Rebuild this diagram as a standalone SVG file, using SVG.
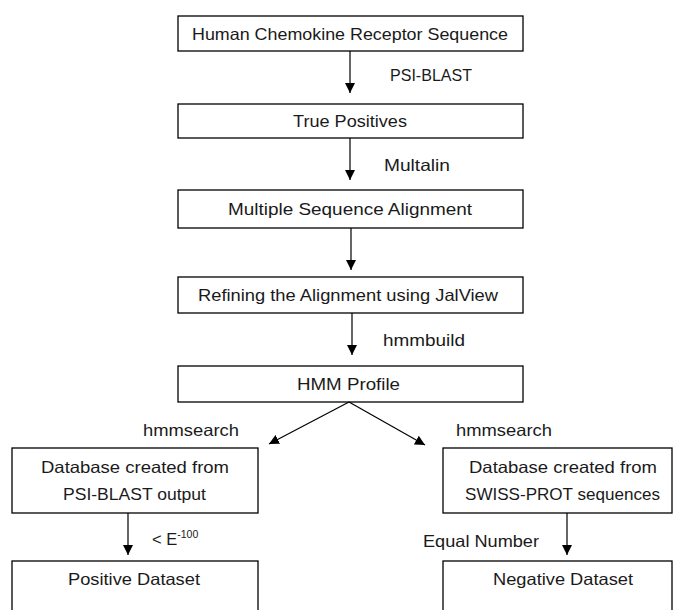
<svg xmlns="http://www.w3.org/2000/svg" width="673" height="610" viewBox="0 0 673 610">
<style>
rect.box{fill:#fff;stroke:#000;stroke-width:1.3}
text{font-family:"Liberation Sans",Arial,sans-serif;font-size:16.5px;fill:#1a1a1a}
.c{text-anchor:middle}
.conn line{stroke:#000;stroke-width:1.2;marker-end:url(#ah)}
</style>
<defs>
<marker id="ah" viewBox="0 0 10 10" refX="10" refY="5" markerWidth="10" markerHeight="10" markerUnits="userSpaceOnUse" orient="auto">
<path d="M0,0 L10,5 L0,10 z" fill="#000"/>
</marker>
</defs>
<rect width="673" height="610" fill="#fff"/>
<g id="n1"><rect class="box" x="178" y="16" width="345" height="35"/><text class="c" x="350" y="40" textLength="316" lengthAdjust="spacingAndGlyphs">Human Chemokine Receptor Sequence</text></g>
<g id="n2"><rect class="box" x="178" y="104" width="345" height="34"/><text class="c" x="350" y="127" textLength="114" lengthAdjust="spacingAndGlyphs">True Positives</text></g>
<g id="n3"><rect class="box" x="178" y="190" width="345" height="38"/><text class="c" x="350" y="215" textLength="244" lengthAdjust="spacingAndGlyphs">Multiple Sequence Alignment</text></g>
<g id="n4"><rect class="box" x="178" y="277" width="345" height="36"/><text class="c" x="348" y="301" textLength="300" lengthAdjust="spacingAndGlyphs">Refining the Alignment using JalView</text></g>
<g id="n5"><rect class="box" x="178" y="366" width="345" height="36"/><text class="c" x="348.5" y="390" textLength="103" lengthAdjust="spacingAndGlyphs">HMM Profile</text></g>
<g id="n6"><rect class="box" x="12" y="448" width="246" height="65"/><text class="c" x="135" y="473" textLength="188" lengthAdjust="spacingAndGlyphs">Database created from</text><text class="c" x="134.5" y="500" textLength="143" lengthAdjust="spacingAndGlyphs">PSI-BLAST output</text></g>
<g id="n7"><rect class="box" x="443" y="448" width="229" height="65"/><text class="c" x="563" y="473" textLength="188" lengthAdjust="spacingAndGlyphs">Database created from</text><text class="c" x="562.5" y="500" textLength="195" lengthAdjust="spacingAndGlyphs">SWISS-PROT sequences</text></g>
<g id="n8"><rect class="box" x="12" y="561" width="246" height="60"/><text class="c" x="134" y="585" textLength="132" lengthAdjust="spacingAndGlyphs">Positive Dataset</text></g>
<g id="n9"><rect class="box" x="443" y="561" width="229" height="60"/><text class="c" x="563" y="585" textLength="140" lengthAdjust="spacingAndGlyphs">Negative Dataset</text></g>
<g class="conn" id="connectors">
<line x1="350" y1="51" x2="350" y2="93"/>
<line x1="350" y1="138" x2="350" y2="180"/>
<line x1="351" y1="228" x2="351" y2="270"/>
<line x1="352" y1="313" x2="352" y2="355"/>
<line x1="349" y1="402" x2="269" y2="444"/>
<line x1="349" y1="402" x2="425" y2="445"/>
<line x1="128" y1="513" x2="128" y2="555"/>
<line x1="567" y1="513" x2="567" y2="555"/>
</g>
<g id="labels">
<text x="390" y="81" textLength="82" lengthAdjust="spacingAndGlyphs">PSI-BLAST</text>
<text x="384" y="171" textLength="66" lengthAdjust="spacingAndGlyphs">Multalin</text>
<text x="383" y="346" textLength="82" lengthAdjust="spacingAndGlyphs">hmmbuild</text>
<text x="143" y="436" textLength="96" lengthAdjust="spacingAndGlyphs">hmmsearch</text>
<text x="456" y="436" textLength="96" lengthAdjust="spacingAndGlyphs">hmmsearch</text>
<text x="152" y="545">&lt; E<tspan font-size="10.5" dy="-7">-100</tspan></text>
<text x="423" y="547" textLength="116" lengthAdjust="spacingAndGlyphs">Equal Number</text>
</g>
</svg>
